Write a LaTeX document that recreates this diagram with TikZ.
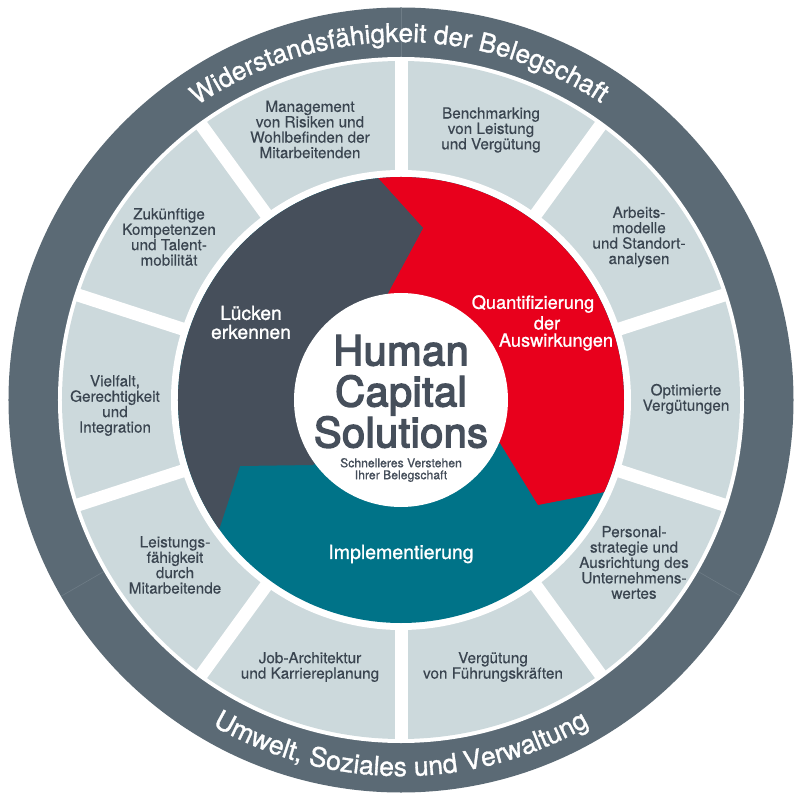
\documentclass[tikz,border=0pt]{standalone}
\usepackage{fontspec}
\usetikzlibrary{decorations.text}
\setmainfont{TeX Gyre Heros}
\newfontfamily\medfont[FakeBold=1.2]{TeX Gyre Heros}
\newfontfamily\bodyfont[FakeBold=0.3]{TeX Gyre Heros}
\newfontfamily\subfont[FakeBold=0.7]{TeX Gyre Heros}
\newfontfamily\titlefont[FakeBold=3.5,LetterSpace=1]{TeX Gyre Heros}
\definecolor{ringc}{HTML}{5B6A75}
\definecolor{ringl}{HTML}{6E7C86}
\definecolor{panelc}{HTML}{CCD9DC}
\definecolor{darkc}{HTML}{464F5B}
\definecolor{redc}{HTML}{E8001C}
\definecolor{tealc}{HTML}{007388}
\definecolor{textc}{HTML}{3A4550}
\tikzset{
  paneltext/.style={align=center,inner sep=0pt,text=textc,font=\bodyfont\fontsize{15.3}{15.4}\selectfont},
  whitetext/.style={align=center,inner sep=0pt,text=white,font=\medfont\fontsize{18.2}{19}\selectfont},
  gapline/.style={draw=white,line width=13pt},
  seamline/.style={draw=ringl,line width=0.6pt}
}
\begin{document}
\begin{tikzpicture}[x=1pt,y=1pt]
\useasboundingbox (-401,-400) rectangle (399,400);
\fill[white] (-401,-400) rectangle (399,400);
% outer ring
\fill[ringc] (0,0) circle[radius=392.5];
\foreach \a in {90,210,330} \draw[seamline] (\a:340) -- (\a:392);
% panels
\fill[white] (0,0) circle[radius=343];
\fill[panelc] (0,0) circle[radius=339];
\foreach \a in {90,54,18,-18,-54,-90,-126,-162,162,126} \draw[gapline] (0,0) -- (\a:342);
\fill[white] (0,0) circle[radius=230];
% three arrows
\coordinate (P1) at (95.9:223);
\coordinate (P2) at (22,172);
\coordinate (P3) at (-13,107);
\coordinate (P4) at (-88,-65);
\coordinate (P5) at (-161,-66);
\coordinate (P8) at (137,-105);
\coordinate (P9) at (99,-43);
\coordinate (O) at (0,0);
\fill[tealc] (0,0) circle[radius=223];
\fill[redc] (P1) arc[start angle=95.9,end angle=-24.4,radius=223] -- (P8) -- (P9) -- (O) -- (P3) -- (P2) -- cycle;
\fill[darkc] (P1) arc[start angle=95.9,end angle=215.4,radius=223] -- (P5) -- (P4) -- (O) -- (P3) -- (P2) -- cycle;
\fill[white] (0,0) circle[radius=107];
% ring text
\path[decorate,decoration={text along path,text align=center,
  text={|\medfont\fontsize{26}{26}\selectfont\color{white}|Widerstandsfähigkeit der Belegschaft}}]
  (150.3:358) arc[start angle=150.3,end angle=30.3,radius=358];
\path[decorate,decoration={text along path,text align=center,
  text={|\medfont\fontsize{26.5}{26.5}\selectfont\color{white}|Umwelt, Soziales und Verwaltung}}]
  (210:376) arc[start angle=210,end angle=330,radius=376];
% panel text
\node[paneltext] (management) at (-91,270.5) {Management\\von Risiken und\\Wohlbefinden der\\Mitarbeitenden};
\node[paneltext] (benchmarking) at (90,270) {Benchmarking\\von Leistung\\und Vergütung};
\node[paneltext] (arbeit) at (238,163) {Arbeits-\\modelle\\und Standort-\\analysen};
\node[paneltext] (optimiert) at (285,1) {Optimierte\\Vergütungen};
\node[paneltext] (personal) at (233,-162.5) {Personal-\\strategie und\\Ausrichtung des\\Unternehmens-\\wertes};
\node[paneltext] (verguetung) at (92,-267) {Vergütung\\von Führungskräften};
\node[paneltext] (job) at (-91,-267) {Job-Architektur\\und Karriereplanung};
\node[paneltext] (leistung) at (-226,-165) {Leistungs-\\fähigkeit\\durch\\Mitarbeitende};
\node[paneltext] (vielfalt) at (-286,-5.5) {Vielfalt,\\Gerechtigkeit\\und\\Integration};
\node[paneltext] (zukunft) at (-232,163) {Zukünftige\\Kompetenzen\\und Talent-\\mobilität};
% arrow labels
\node[whitetext,font=\medfont\fontsize{19.2}{19}\selectfont] (luecken) at (-150,77.5) {Lücken\\erkennen};
\node[whitetext] (q1) at (132,96) {Quantifizierung};
\node[whitetext] (q2) at (146,77) {der};
\node[whitetext] (q3) at (155,58) {Auswirkungen};
\node[whitetext,font=\medfont\fontsize{19.5}{19}\selectfont] (impl) at (0,-154) {Implementierung};
% centre
\node[align=center,inner sep=0pt,text=darkc,font=\titlefont\fontsize{41.5}{41}\selectfont] (title) at (0,8.5) {Human\\Capital\\Solutions};
\node[align=center,inner sep=0pt,text=darkc,font=\subfont\fontsize{12.2}{12}\selectfont] (sub) at (0,-70) {Schnelleres Verstehen\\Ihrer Belegschaft};
\end{tikzpicture}
\end{document}
